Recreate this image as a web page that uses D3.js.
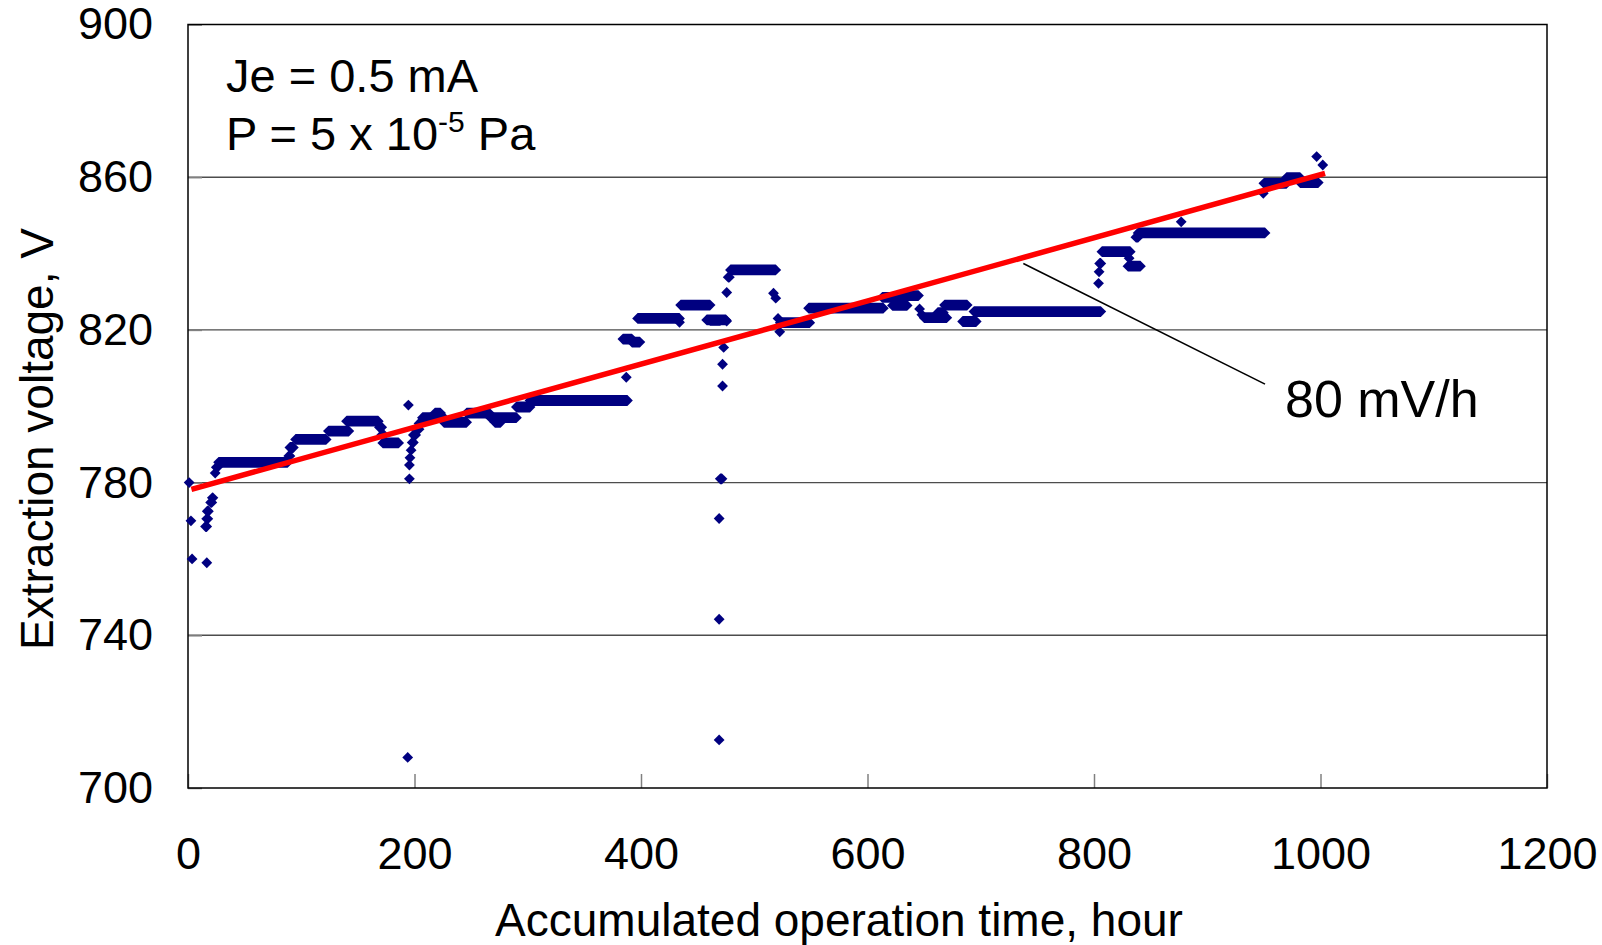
<!DOCTYPE html>
<html>
<head>
<meta charset="utf-8">
<script src="https://cdn.jsdelivr.net/npm/d3@7"></script>
<style>
  html, body { margin: 0; padding: 0; background: #fff; }
  svg { display: block; font-family: "Liberation Sans", Arial, sans-serif; }
</style>
</head>
<body>
<svg id="chart" width="1602" height="945"></svg>
<script>
// ---- Data ----
// Runs of equal readings: [fromHour, toHour, voltage]; single readings have fromHour == toHour
const runs = [
  [1,1,780],[2.6,2.6,770],[3.6,3.6,760],[16.6,16.6,759],
  [15.5,16.5,768.5],[16.5,17.5,770.5],[17,18,772.5],[20,21,774.8],[21.5,22,776],
  [24,24,782.5],[25,26,784],[27,88,785.3],[89,90,787],[90,93,789.2],
  [95,122,791.3],[124,142,793.5],[140,168,796.1],[169,171,794.5],[171,173,792.5],
  [172,186,790.4],[194.6,194.6,800.3],[195.5,195.5,781],[195.5,195.5,784.6],[194,194,708],
  [196,196,786.5],[197,197,788.5],[198,199,790.5],[199,201,792.5],[201,204,794],[204,206,795.5],
  [207,226,797],[218,223,798.2],[226,246,795.8],[246,266,798.2],[267,290,797],[271,276,795.8],
  [290,302,799.8],[302,388,801.5],[387,387,807.6],[384,392,817.6],[392,399,816.8],
  [397,434,823],[434,434,822],[435,461,826.5],[461,470,822.5],[458,475,822.6],
  [469,469,712.6],[469,469,744.2],[469,469,770.6],[470,471.5,781],[472,472,805.3],
  [472,472,811],[473,473,815.4],[475.7,475.7,822.3],[475.7,475.7,829.8],[477,478,833.8],
  [479,519,835.7],[517,517,829.6],[519,519,828.3],[521,521,823],[522.5,522.5,819.5],
  [523,549,821.9],[548,614,825.7],[613,628,828.5],[622,635,826.4],[630,645,829],
  [646,646,825.5],[648,648,824],[650,670,823.2],[662,667,824.5],[668,688,826.5],
  [684,696,822.2],[694,806,824.8],[804,804,832.2],[804.5,804.5,835.2],[805,806,837.4],
  [807,832,840.5],[831,831,838.8],[830,841,836.7],[837,839,844.3],[839,951,845.4],
  [877,877,848.3],[949.5,949.5,855.8],[950,970,858.4],[970,982,859.9],[982,998,858.6],
  [996.6,996.6,865.4],[1002,1002,863.2]
];
// Linear fit (80 mV/h): [hour, voltage]
const fitLine = [[3,778.2],[1004,861]];
// Leader line from fit to the label: [hour, voltage]
const leader = [[737.6,837.4],[951,805.8]];
const xTicks = [0,200,400,600,800,1000,1200];
const yTicks = [700,740,780,820,860,900];
const gridValues = [740,780,820,860];

// ---- Layout ----
const svg = d3.select("#chart");
const x = d3.scaleLinear().domain([0,1200]).range([188,1547]);
const y = d3.scaleLinear().domain([700,900]).range([788,24.5]);
const FONT = 45;

// gridlines
svg.append("g").selectAll("line").data(gridValues).join("line")
  .attr("x1", x(0)).attr("x2", x(1200))
  .attr("y1", d => y(d)).attr("y2", d => y(d))
  .attr("stroke", "#4d4d4d").attr("stroke-width", 1.4);

// axes
const fmt = d3.format("d");
const xAxis = d3.axisBottom(x).tickValues(xTicks).tickFormat(fmt).tickSizeInner(-14).tickSizeOuter(0).tickPadding(49);
const gx = svg.append("g").attr("transform", `translate(0,${y(700)})`).call(xAxis);
const yAxis = d3.axisLeft(y).tickValues(yTicks).tickFormat(fmt).tickSizeInner(-14).tickSizeOuter(0).tickPadding(35);
const gy = svg.append("g").attr("transform", `translate(${x(0)},0)`).call(yAxis);
[gx, gy].forEach(g => {
  g.select(".domain").remove();
  g.selectAll(".tick line").attr("stroke", "#808080").attr("stroke-width", 1.5);
  g.selectAll(".tick text").attr("font-size", FONT).attr("fill", "#000")
    .attr("font-family", "'Liberation Sans', Arial, sans-serif");
});

// plot border
svg.append("rect")
  .attr("x", x(0)).attr("y", y(900))
  .attr("width", x(1200) - x(0)).attr("height", y(700) - y(900))
  .attr("fill", "none").attr("stroke", "#000").attr("stroke-width", 1.5);

// data markers (runs of diamonds)
const r = 5.4;
svg.append("g").selectAll("path").data(runs).join("path")
  .attr("d", d => {
    const x1 = x(d[0]), x2 = x(d[1]), yy = y(d[2]);
    return `M${x1-r},${yy}L${x1},${yy-r}L${x2},${yy-r}L${x2+r},${yy}L${x2},${yy+r}L${x1},${yy+r}Z`;
  })
  .attr("fill", "#000080");

// fit line
const line = d3.line().x(d => x(d[0])).y(d => y(d[1]));
svg.append("path").datum(fitLine).attr("d", line)
  .attr("stroke", "#ff0000").attr("stroke-width", 5.5).attr("fill", "none");

// leader line
svg.append("path").datum(leader).attr("d", line)
  .attr("stroke", "#000").attr("stroke-width", 1.6).attr("fill", "none");

// annotations
svg.append("text").attr("x", 1285).attr("y", 417).attr("font-size", 52).text("80 mV/h");
svg.append("text").attr("x", 226).attr("y", 92).attr("font-size", 47).text("Je = 0.5 mA");
const p = svg.append("text").attr("x", 226).attr("y", 150).attr("font-size", 47);
p.append("tspan").text("P = 5 x 10");
p.append("tspan").attr("font-size", 30).attr("dy", -18).text("-5");
p.append("tspan").attr("dy", 18).text(" Pa");

// axis titles
svg.append("text").attr("x", 839).attr("y", 936).attr("text-anchor", "middle")
  .attr("font-size", 46).text("Accumulated operation time, hour");
svg.append("text").attr("transform", "translate(53,439) rotate(-90)").attr("text-anchor", "middle")
  .attr("font-size", 46).text("Extraction voltage, V");
</script>
</body>
</html>
